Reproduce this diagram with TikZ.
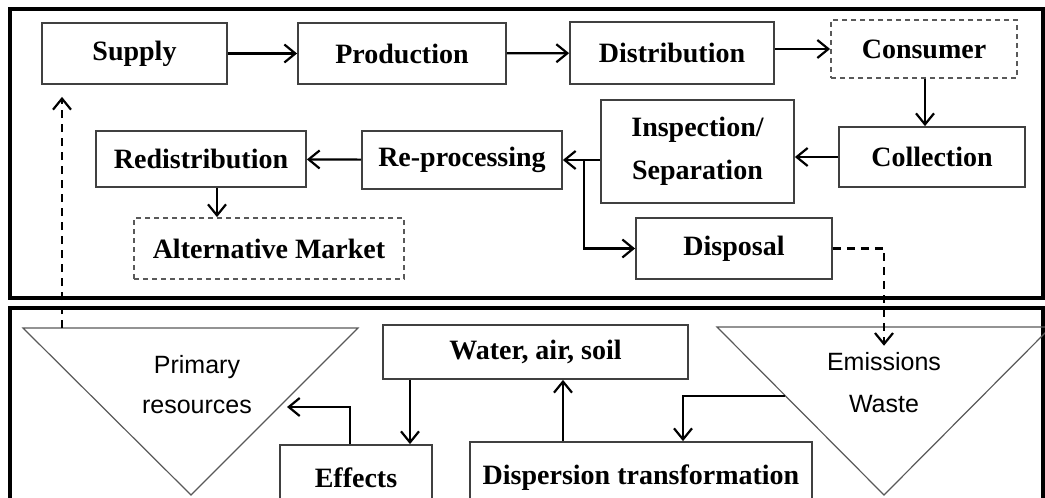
\documentclass[tikz,border=0pt]{standalone}
\usepackage{fontspec}
\setmainfont{Liberation Serif}
\newfontfamily\trifont{Liberation Sans}
\usetikzlibrary{arrows.meta,calc}

\begin{document}
\begin{tikzpicture}[x=0.5pt,y=-0.5pt,
   box/.style={draw=black!75,line width=0.9pt,font=\fontsize{14}{17}\selectfont\bfseries,align=center,inner sep=2pt},
   dbox/.style={box,dash pattern=on 2.5pt off 2pt,draw=black!65},
   frame/.style={line width=1.6pt},
   tri/.style={draw=black!65,line width=0.6pt},
   tlabel/.style={font=\fontsize{12.5}{15}\selectfont\trifont,align=center},
   flow/.style={line width=1.1pt,-{Straight Barb[length=5.5pt,width=9pt]}},
   dflow/.style={flow,dash pattern=on 4pt off 3pt},
   ]
   \useasboundingbox (0,0) rectangle (1045,498);
   \clip (0,0) rectangle (1045,498);
   % frames
   \draw[frame] (10,9) rectangle (1043,298);
   \draw[frame] (10,308) rectangle (1043,530);
   % upper loop
   \node[box,minimum width=92.5pt,minimum height=30.5pt] (supply) at (134.5,53.5) {Supply};
   \node[box,minimum width=104pt,minimum height=30.5pt] (production) at (402,53.5) {Production};
   \node[box,minimum width=102pt,minimum height=31pt] (distribution) at (672,53) {Distribution};
   \node[dbox,minimum width=93pt,minimum height=29pt] (consumer) at (924,49) {Consumer};
   \node[box,minimum width=93pt,minimum height=30pt] (collection) at (932,157) {Collection};
   \node[box,minimum width=96.5pt,minimum height=51.5pt] (inspection) at (697.5,151.5) {Inspection/\\[4.5pt]Separation};
   \node[box,minimum width=100pt,minimum height=29pt] (reprocessing) at (462,160) {Re-processing};
   \node[box,minimum width=105pt,minimum height=28pt] (redistribution) at (201,159) {Redistribution};
   \node[dbox,minimum width=135pt,minimum height=30.5pt] (altmarket) at (269,248.5) {Alternative Market};
   \node[box,minimum width=98pt,minimum height=30.5pt] (disposal) at (734,248.5) {Disposal};
   % lower part
   \draw[tri] (23,328) -- (358,328) -- (191,495) -- cycle;
   \draw[tri] (717,327) -- (1051,327) -- (884,495) -- cycle;
   \node[tlabel] (primary) at (197,385) {Primary\\[5pt]resources};
   \node[tlabel] (emissions) at (884,383) {Emissions\\[6pt]Waste};
   \node[box,minimum width=152.5pt,minimum height=27pt] (water) at (535.5,352) {Water, air, soil};
   \node[box,minimum width=76pt,minimum height=33pt] (effects) at (356,478) {Effects};
   \node[box,minimum width=171pt,minimum height=36pt] (dispersion) at (641,478) {Dispersion transformation};

   \coordinate (branch) at (584,160);
   \coordinate (prtop) at (62,328);
   \coordinate (effx) at (410,0);
   \coordinate (upx) at (563,0);
   \coordinate (prin) at (287,407);
   \coordinate (emout) at (785,396);

   \draw[flow] (supply) -- (production);
   \draw[flow] (production) -- (distribution);
   \draw[flow] (distribution.east |- consumer.west) -- (consumer.west);
   \draw[flow] (consumer.south -| 925,0) -- (collection.north -| 925,0);
   \draw[flow] (collection.west) -- (collection.west -| inspection.east);
   \draw[flow] (inspection.west |- reprocessing.east) -- (reprocessing.east);
   \draw[flow] (branch) |- (disposal.west);
   \draw[flow] (reprocessing) -- (redistribution);
   \draw[flow] ($(redistribution.south)+(16,0)$) -- ($(altmarket.north)+(-52,0)$);
   \draw[dflow] (disposal.east) -| (emissions.north);
   \draw[dflow,shorten >=6pt] (prtop) -- (prtop |- supply.south);
   \draw[flow] (water.south -| effx) -- (effects.north -| effx);
   \draw[flow] ($(effects.north)+(-6,0)$) |- (prin);
   \draw[flow] (dispersion.north -| upx) -- (water.south -| upx);
   \draw[flow] (emout) -| ($(dispersion.north)+(42,0)$);
\end{tikzpicture}
\end{document}
